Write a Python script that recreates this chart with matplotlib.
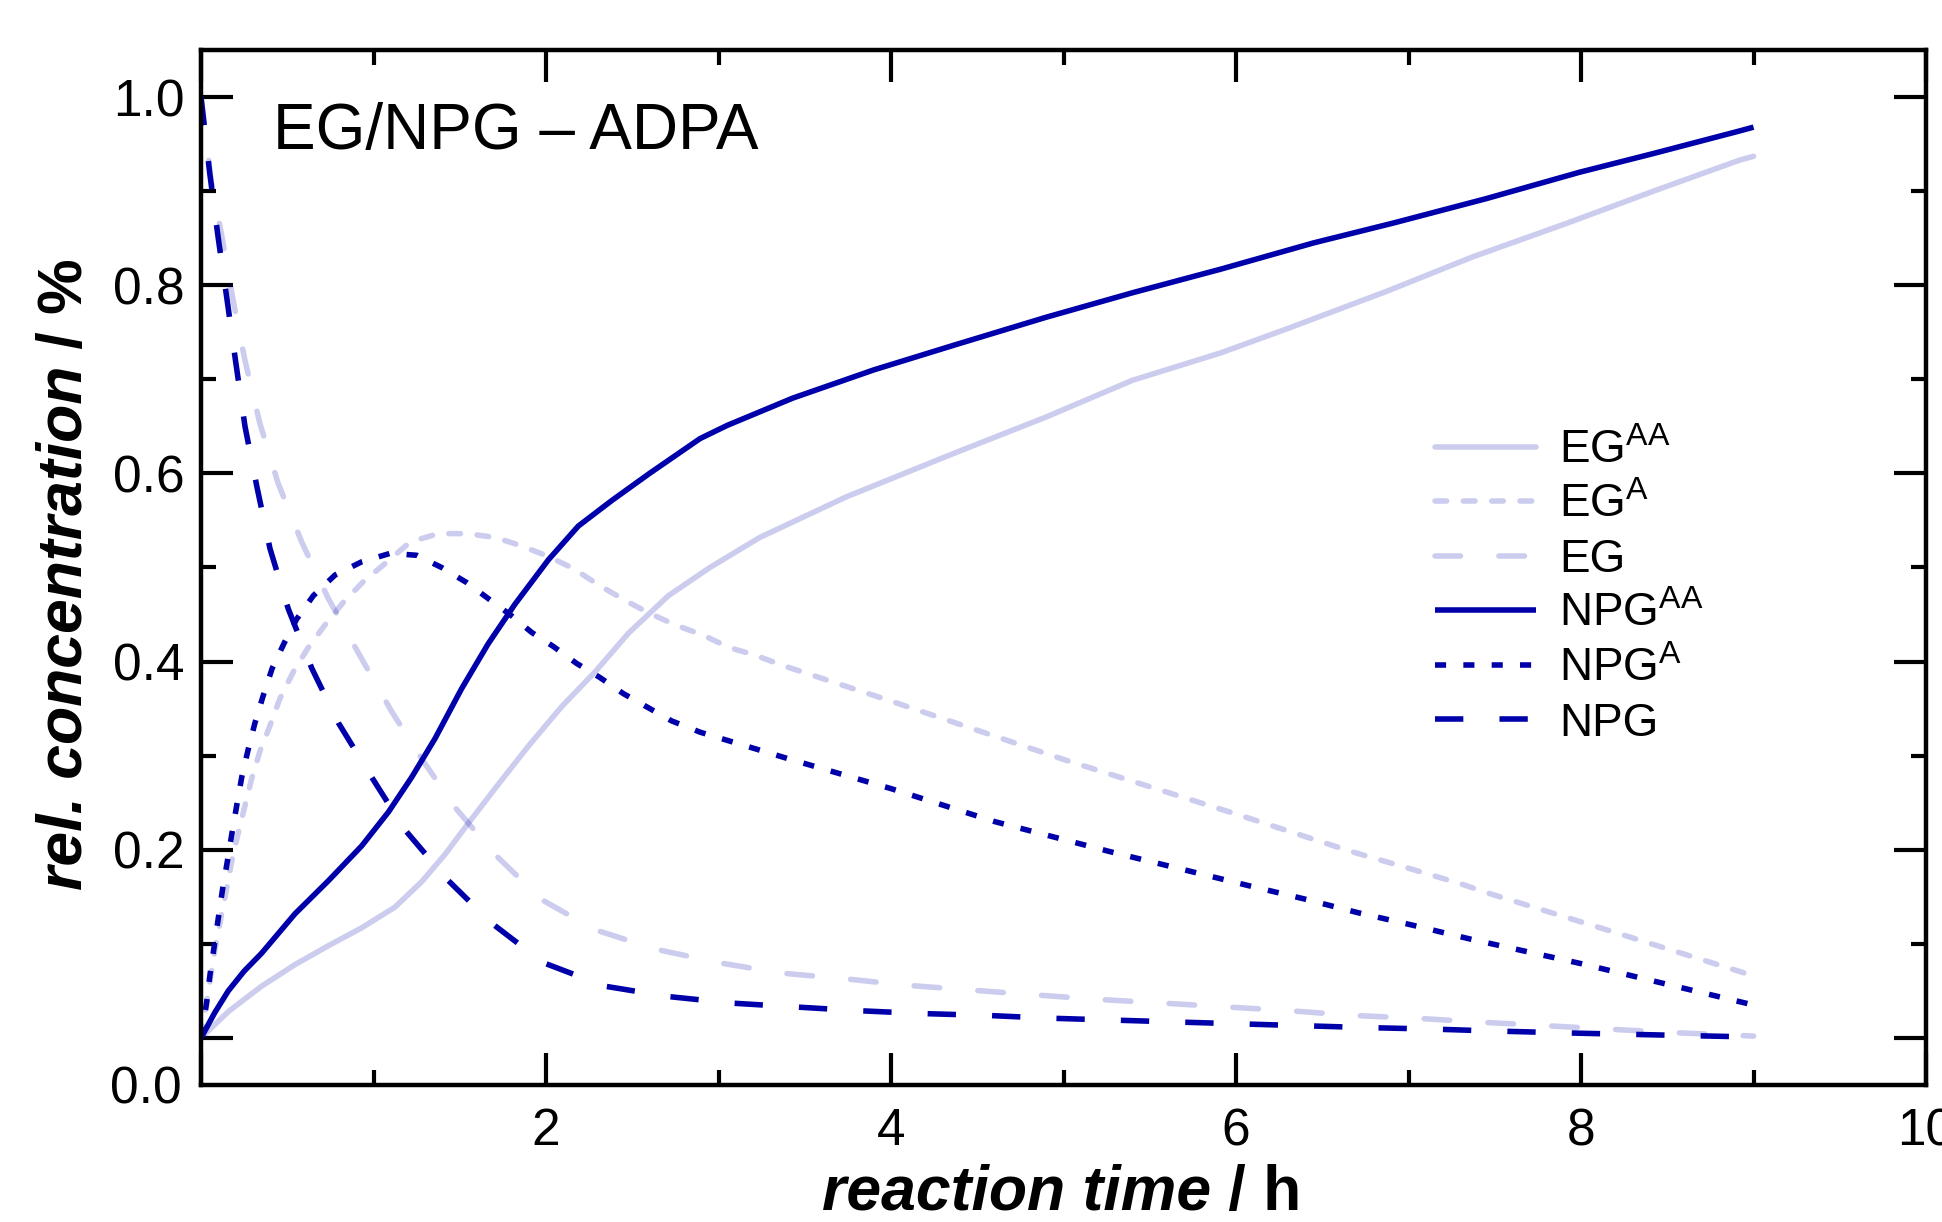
import matplotlib
matplotlib.use("Agg")
import matplotlib.pyplot as plt
from matplotlib.ticker import MultipleLocator

plt.rcParams['font.family'] = ['Liberation Sans', 'DejaVu Sans']
plt.rcParams['mathtext.fontset'] = 'custom'
plt.rcParams['mathtext.rm'] = 'Liberation Sans'

# --- data ---
egaa_x = [0, 0.158, 0.351, 0.545, 0.738, 0.931, 1.124, 1.279, 1.414, 1.549, 1.704, 1.897, 2.09, 2.284,
          2.477, 2.709, 2.95, 3.24, 3.74, 4.36, 4.90, 5.40, 5.91, 6.30, 6.88, 7.37, 7.92, 8.42, 8.92, 9.0]
egaa_y = [0, 0.028, 0.055, 0.078, 0.098, 0.117, 0.139, 0.166, 0.195, 0.228, 0.265, 0.31, 0.352, 0.389,
          0.43, 0.47, 0.50, 0.532, 0.575, 0.621, 0.66, 0.699, 0.728, 0.754, 0.794, 0.83, 0.866, 0.90, 0.933, 0.937]

ega_x = [0, 0.081, 0.12, 0.149, 0.178, 0.216, 0.255, 0.293, 0.342, 0.4, 0.458, 0.535, 0.622, 0.719, 0.825,
         0.941, 1.066, 1.212, 1.375, 1.54, 1.704, 1.858, 2.01, 2.158, 2.3, 2.458, 2.593, 2.748, 2.912, 3.06,
         3.21, 3.37, 4.0, 5.0, 6.0, 6.67, 6.97, 7.3, 7.46, 8.2, 9.0]
ega_y = [0, 0.094, 0.132, 0.159, 0.188, 0.218, 0.247, 0.275, 0.305, 0.332, 0.361, 0.389, 0.415, 0.439, 0.463,
         0.485, 0.504, 0.527, 0.536, 0.536, 0.532, 0.523, 0.512, 0.499, 0.482, 0.465, 0.452, 0.439, 0.428, 0.415,
         0.407, 0.396, 0.358, 0.296, 0.238, 0.198, 0.182, 0.164, 0.154, 0.112, 0.066]

eg_x = [0, 0.06, 0.12, 0.186, 0.255, 0.34, 0.446, 0.584, 0.738, 0.922, 1.105, 1.289, 1.482, 1.704, 1.975,
        2.284, 2.632, 3.0, 3.36, 3.73, 4.09, 4.46, 4.84, 5.2, 5.58, 5.94, 6.31, 6.67, 7.04, 7.4, 8.0, 8.5, 9.0]
eg_y = [1.0, 0.91, 0.853, 0.784, 0.72, 0.654, 0.59, 0.527, 0.467, 0.406, 0.347, 0.294, 0.243, 0.195, 0.147,
        0.115, 0.0945, 0.08, 0.069, 0.063, 0.056, 0.051, 0.0457, 0.041, 0.037, 0.033, 0.029, 0.024, 0.021,
        0.017, 0.011, 0.006, 0.002]

npgaa_x = [0, 0.08, 0.158, 0.25, 0.351, 0.545, 0.738, 0.931, 1.086, 1.221, 1.356, 1.51, 1.665, 1.82, 2.013,
           2.187, 2.38, 2.6, 2.893, 3.05, 3.43, 3.90, 4.36, 4.90, 5.40, 5.91, 6.45, 6.91, 7.45, 7.99, 8.42,
           8.92, 9.0]
npgaa_y = [0, 0.027, 0.05, 0.071, 0.09, 0.132, 0.167, 0.204, 0.24, 0.277, 0.318, 0.371, 0.419, 0.461, 0.508,
           0.544, 0.571, 0.60, 0.637, 0.651, 0.68, 0.71, 0.736, 0.766, 0.792, 0.817, 0.845, 0.866, 0.892, 0.92,
           0.94, 0.964, 0.968]

npga_x = [0, 0.033, 0.052, 0.077, 0.100, 0.125, 0.153, 0.178, 0.207, 0.236, 0.274, 0.313, 0.361, 0.413, 0.483,
          0.554, 0.651, 0.777, 0.931, 1.096, 1.25, 1.395, 1.54, 1.665, 1.791, 1.917, 2.043, 2.178, 2.313, 2.448,
          2.583, 2.728, 2.893, 3.4, 4.0, 4.6, 5.27, 5.76, 6.07, 6.39, 6.71, 7.02, 7.36, 8.0, 9.0]
npga_y = [0, 0.038, 0.067, 0.098, 0.127, 0.158, 0.188, 0.216, 0.247, 0.277, 0.307, 0.335, 0.364, 0.393, 0.42,
          0.445, 0.47, 0.492, 0.506, 0.515, 0.513, 0.50, 0.484, 0.467, 0.45, 0.431, 0.416, 0.398, 0.383, 0.366,
          0.352, 0.337, 0.325, 0.297, 0.265, 0.23, 0.198, 0.176, 0.162, 0.148, 0.133, 0.12, 0.105, 0.079, 0.035]

npg_x = [0, 0.05, 0.10, 0.15, 0.20, 0.255, 0.325, 0.40, 0.506, 0.642, 0.796, 0.99, 1.183, 1.424, 1.685, 1.984,
         2.342, 2.71, 3.08, 3.44, 3.81, 4.17, 4.55, 4.92, 5.29, 5.65, 6.02, 6.39, 6.76, 7.13, 7.47, 8.0, 8.5, 9.0]
npg_y = [1.0, 0.92, 0.85, 0.786, 0.72, 0.65, 0.585, 0.52, 0.456, 0.393, 0.335, 0.277, 0.221, 0.169, 0.122, 0.080,
         0.055, 0.044, 0.037, 0.033, 0.029, 0.026, 0.024, 0.021, 0.019, 0.017, 0.015, 0.013, 0.011, 0.0095,
         0.0075, 0.005, 0.003, 0.001]

labels = [r'EG$^{\mathrm{AA}}$', r'EG$^{\mathrm{A}}$', 'EG',
          r'NPG$^{\mathrm{AA}}$', r'NPG$^{\mathrm{A}}$', 'NPG']

blue = '#0000aa'
lw = 4.0

fig = plt.figure(figsize=(19.42, 12.22), dpi=100)
ax = fig.add_axes([0.1035, 0.1121, 0.8883, 0.847])

# dark (NPG) series
l4, = ax.plot(npgaa_x, npgaa_y, color=blue, lw=lw, solid_capstyle='butt')
l5, = ax.plot(npga_x, npga_y, color=blue, lw=lw, linestyle=(0, (2.0, 3.1)), dash_capstyle='butt')
l6, = ax.plot(npg_x, npg_y, color=blue, lw=lw, linestyle=(0, (5.1, 6.5)), dash_capstyle='butt')
# light (EG) series
l1, = ax.plot(egaa_x, egaa_y, color=blue, alpha=0.2, lw=lw, solid_capstyle='round')
l2, = ax.plot(ega_x, ega_y, color=blue, alpha=0.2, lw=lw, linestyle=(0, (2.1, 3.0)), dash_capstyle='round')
l3, = ax.plot(eg_x, eg_y, color=blue, alpha=0.2, lw=lw, linestyle=(0, (4.6, 6.9)), dash_capstyle='round')

ax.set_xlim(0, 10)
ax.set_ylim(-0.05, 1.05)

ax.set_xticks([0, 2, 4, 6, 8, 10])
ax.set_xticklabels(['', '2', '4', '6', '8', '10'])
ax.set_yticks([0, 0.2, 0.4, 0.6, 0.8, 1.0])
ax.set_yticklabels(['', '0.2', '0.4', '0.6', '0.8', '1.0'])
ax.xaxis.set_minor_locator(MultipleLocator(1))
ax.yaxis.set_minor_locator(MultipleLocator(0.1))
ax.tick_params(which='both', direction='in', top=True, right=True, width=3, labelsize=37)
ax.tick_params(which='major', length=23)
ax.tick_params(which='minor', length=11)
ax.tick_params(axis='x', which='major', pad=16)
ax.tick_params(axis='y', which='major', pad=12)
for s in ax.spines.values():
    s.set_linewidth(3.2)

# the 0.0 label sits at the bottom edge in the original
ax.text(-0.011, -0.055, '0.0', transform=ax.get_yaxis_transform(), ha='right', va='center', fontsize=37)

ax.text(0.42, 0.945, 'EG/NPG \u2013 ADPA', fontsize=46, va='baseline', ha='left')

leg = ax.legend([l1, l2, l3, l4, l5, l6], labels, loc='upper left', bbox_to_anchor=(0.7154, 0.634),
                frameon=False, fontsize=33, handlelength=2.2, handletextpad=0.5,
                labelspacing=0.23, borderpad=0, borderaxespad=0)

# axis labels: italic bold part + upright bold unit
xl = fig.text(822 / 1942, 1 - 1210 / 1222, 'reaction time', fontsize=45, fontweight='bold',
              fontstyle='italic', ha='left', va='baseline')
ax.annotate(' / h', xy=(1, 0), xycoords=xl, fontsize=45, fontweight='bold', ha='left', va='bottom',
            annotation_clip=False)

yl = fig.text(0.0335, 1 - 890 / 1222, 'rel. concentration', fontsize=45, fontweight='bold',
              fontstyle='italic', rotation=90, ha='center', va='bottom')
ax.annotate(' / %', xy=(0.5, 1), xycoords=yl, fontsize=45, fontweight='bold', rotation=90,
            ha='center', va='bottom', annotation_clip=False)

fig.savefig('out.png', dpi=100)
